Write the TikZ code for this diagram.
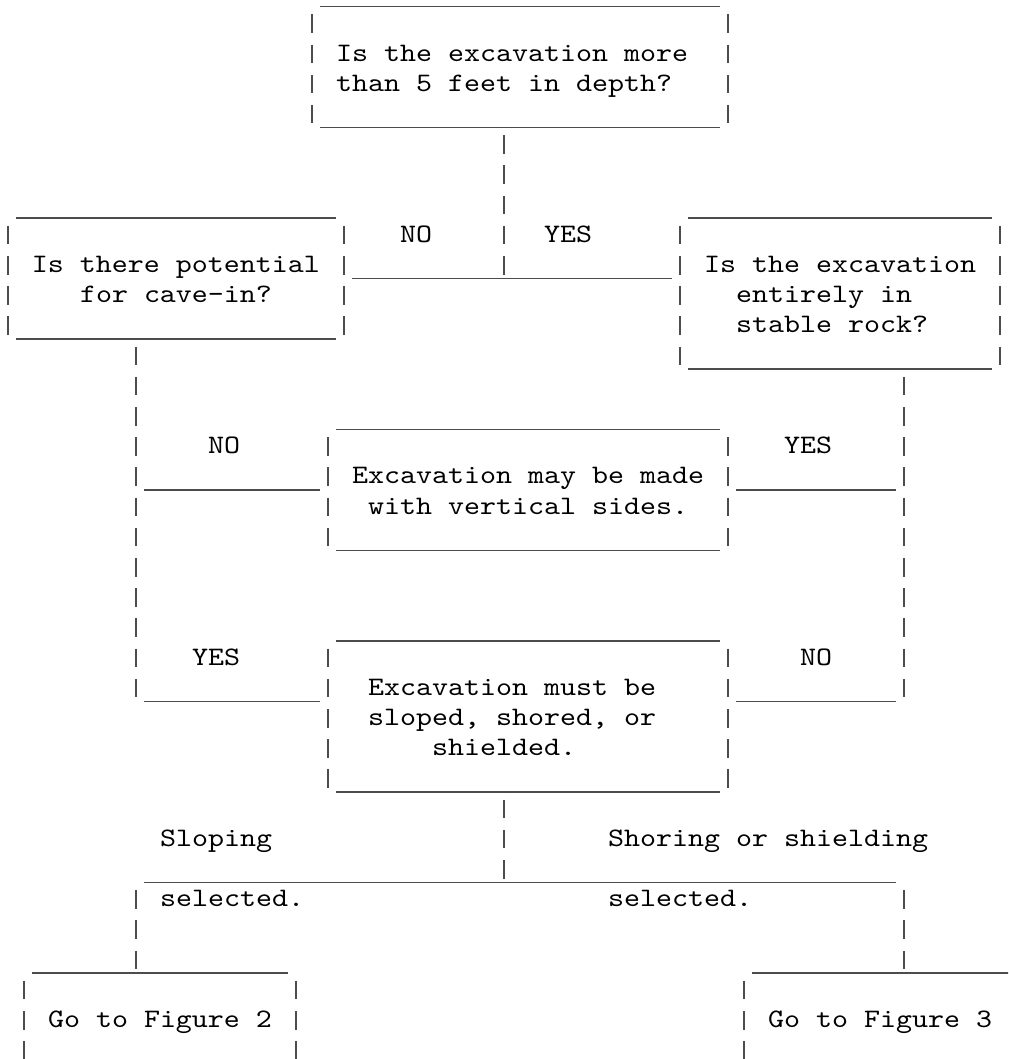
\documentclass[tikz,border=0pt]{standalone}
\usepackage{fontspec}
\usetikzlibrary{fit}
\newfontfamily\cour{lmmono10-regular}[Extension=.otf,FakeStretch=1.142857]
\definecolor{linec}{gray}{0.3}
\newcommand\drawbox[1]{%
  \draw[hl] (#1.north west) -- (#1.north east);
  \draw[hl] (#1.south west) -- (#1.south east);
  \draw[vl] (#1.north west) -- (#1.south west);
  \draw[vl] (#1.north east) -- (#1.south east);}
\begin{document}
\begin{tikzpicture}[x=0.375pt,y=-0.375pt,
  txt/.style={anchor=base west,inner sep=0pt,outer sep=0pt,font=\cour,text=black},
  boxshape/.style={rectangle,inner sep=0pt,outer sep=0pt,draw=none},
  hl/.style={draw=linec,line width=0.55pt,shorten <=3pt,shorten >=3pt},
  vl/.style={draw=linec,line width=0.6pt,dash pattern=on 6.9375pt off 4.3875pt,dash phase=8.4375pt}]
\useasboundingbox (0,0) rectangle (1008,1059);
\clip (0,0) rectangle (1008,1059);

% boxes
\node[boxshape,fit={(312,6.7) (728,127.5)}] (q1) {};
\node[boxshape,fit={(8,218.1) (344,338.9)}] (q2) {};
\node[boxshape,fit={(680,218.1) (1000,369.1)}] (q3) {};
\node[boxshape,fit={(328,429.5) (728,550.3)}] (r1) {};
\node[boxshape,fit={(328,640.9) (728,791.9)}] (r2) {};
\node[boxshape,fit={(24,973.1) (296,1093.9)}] (f2) {};
\node[boxshape,fit={(744,973.1) (1064,1093.9)}] (f3) {};
\drawbox{q1}\drawbox{q2}\drawbox{q3}\drawbox{r1}\drawbox{r2}\drawbox{f2}\drawbox{f3}

% box texts
\node[txt] (q1a) at (336,61.1) {Is the excavation more};
\node[txt] (q1b) at (336,91.3) {than 5 feet in depth?};
\node[txt] (q2a) at (32,272.5) {Is there potential};
\node[txt] (q2b) at (80,302.7) {for cave-in?};
\node[txt] (q3a) at (704,272.5) {Is the excavation};
\node[txt] (q3b) at (736,302.7) {entirely in};
\node[txt] (q3c) at (736,332.9) {stable rock?};
\node[txt] (r1a) at (352,483.9) {Excavation may be made};
\node[txt] (r1b) at (368,514.1) {with vertical sides.};
\node[txt] (r2a) at (368,695.3) {Excavation must be};
\node[txt] (r2b) at (368,725.5) {sloped, shored, or};
\node[txt] (r2c) at (432,755.7) {shielded.};
\node[txt] (f2a) at (48,1027.5) {Go to Figure 2};
\node[txt] (f3a) at (768,1027.5) {Go to Figure 3};

% connector from q1 to q2 / q3
\coordinate (j1) at (504,278.5);
\draw[vl] (q1.south -| j1) -- (j1);
\draw[hl] (q2.east |- j1) -- (q3.west |- j1);
\node[txt] (lno1) at (400,242.3) {NO};
\node[txt] (lyes1) at (544,242.3) {YES};

% left chain from q2
\coordinate (jl1) at (136,489.9);
\coordinate (jl2) at (136,701.3);
\draw[vl] (q2.south -| jl2) -- (jl2);
\draw[hl] (jl1) -- (r1.west |- jl1);
\draw[hl] (jl2) -- (r2.west |- jl2);
\node[txt] (lno2) at (208,453.7) {NO};
\node[txt] (lyes2) at (192,665.1) {YES};

% right chain from q3
\coordinate (jr1) at (904,489.9);
\coordinate (jr2) at (904,701.3);
\draw[vl] (q3.south -| jr2) -- (jr2);
\draw[hl] (r1.east |- jr1) -- (jr1);
\draw[hl] (r2.east |- jr2) -- (jr2);
\node[txt] (lyes3) at (784,453.7) {YES};
\node[txt] (lno3) at (800,665.1) {NO};

% bottom split
\coordinate (jb) at (504,882.5);
\coordinate (bl) at (136,882.5);
\coordinate (br) at (904,882.5);
\draw[vl] (r2.south -| jb) -- (jb);
\draw[hl] (bl) -- (br);
\draw[vl] (bl) -- (f2.north -| bl);
\draw[vl] (br) -- (f3.north -| br);
\node[txt] (ls1) at (160,846.3) {Sloping};
\node[txt] (ls2) at (160,906.7) {selected.};
\node[txt] (lr1) at (608,846.3) {Shoring or shielding};
\node[txt] (lr2) at (608,906.7) {selected.};
\end{tikzpicture}
\end{document}
